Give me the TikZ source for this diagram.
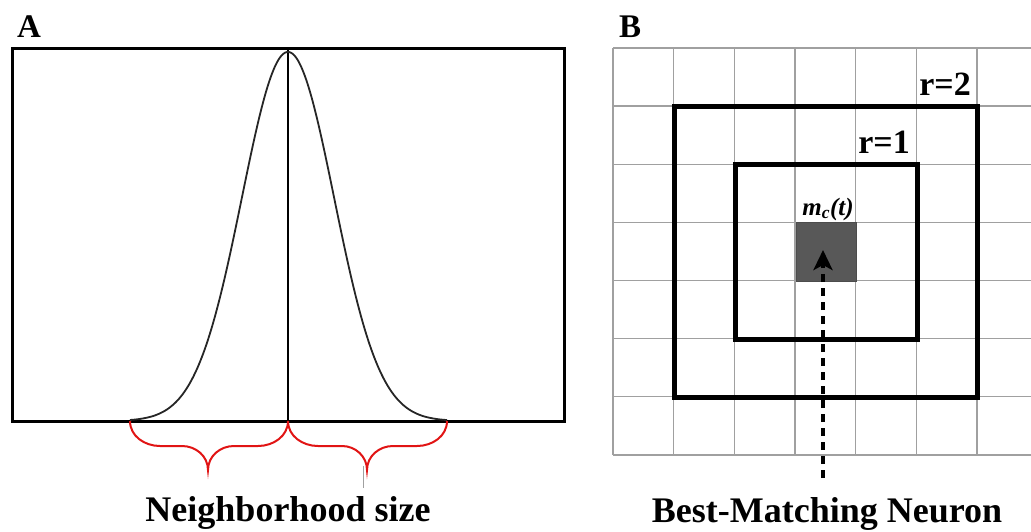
\documentclass[tikz,border=0pt]{standalone}
\usepackage{fontspec}
\setmainfont{Liberation Serif}
\usetikzlibrary{arrows.meta}
\definecolor{gridgray}{RGB}{160,160,160}
\definecolor{bmugray}{RGB}{88,88,88}
\definecolor{bracered}{RGB}{225,20,20}
\tikzset{
  panelbox/.style={line width=3pt, draw=black},
  gridline/.style={line width=1.3pt, draw=gridgray},
  ringbox/.style={line width=5pt, draw=black},
  bigtext/.style={font=\fontsize{36}{40}\selectfont\bfseries, anchor=base, inner sep=0pt},
  letter/.style={font=\fontsize{33}{36}\selectfont\bfseries, anchor=base west, inner sep=0pt},
  rtext/.style={font=\fontsize{34}{36}\selectfont\bfseries, anchor=base east, inner sep=0pt},
  bracepath/.style={draw=bracered, line width=2pt},
  dasharrow/.style={line width=4pt, dash pattern=on 8pt off 6pt, -{Stealth[length=20pt,width=19pt,inset=5pt]}}
}
\begin{document}
\begin{tikzpicture}[x=1pt,y=-1pt]
\useasboundingbox (0,0) rectangle (1031,531);
% ---------- Panel A ----------
\node[letter] (labA) at (17,37) {A};
\draw[panelbox] (12,48) rectangle (564,421);
\coordinate (peak) at (288,48);
\coordinate (base) at (288,421);
\draw[line width=2pt] (peak) -- (base);
\draw[line width=1.8pt, black!85] plot[domain=130:447, samples=240] (\x, {421-369*exp(-0.5*((\x-288)/46)^2)});
\coordinate (bL) at (130,421);
\coordinate (bR) at (447,421);
\coordinate (tipL) at (208,470);
\coordinate (tipR) at (367,470);
\draw[bracepath] (bL) to[out=-90,in=180] (160,446) -- (182,446) to[out=0,in=90] (tipL)
  to[out=90,in=180] (234,446) -- (258,446) to[out=0,in=-90] (base);
\draw[bracepath] (base) to[out=-90,in=180] (318,446) -- (342,446) to[out=0,in=90] (tipR)
  to[out=90,in=180] (393,446) -- (417,446) to[out=0,in=-90] (bR);
\draw[line width=0.8pt, gridgray] (363,466) -- (363,488);
\node[bigtext] (nsize) at (288,521) {Neighborhood size};
% ---------- Panel B ----------
\node[letter] (labB) at (619,37) {B};
\foreach \i in {0,...,6} {
  \draw[gridline] ({613+60.67*\i},48) -- ({613+60.67*\i},455);
}
\foreach \j in {0,...,7} {
  \draw[gridline] (613,{48+58.14*\j}) -- (1031,{48+58.14*\j});
}
\draw[ringbox] (674,106) rectangle (977,397);
\draw[ringbox] (735,164) rectangle (917,339);
\draw[fill=bmugray, draw=black!70, line width=0.8pt] (796,222) rectangle (856,281);
\node[rtext] (r2) at (971,95) {r=2};
\node[rtext] (r1) at (910,153) {r=1};
\node[font=\fontsize{25}{28}\selectfont\bfseries\itshape, anchor=base, inner sep=0pt] (mc) at (828,215) {m\textsubscript{c}(t)};
\coordinate (arrStart) at (823,478);
\coordinate (arrEnd) at (823,250);
\draw[dasharrow] (arrStart) -- (arrEnd);
\node[bigtext] (bmn) at (827,522) {Best-Matching Neuron};
\end{tikzpicture}
\end{document}
